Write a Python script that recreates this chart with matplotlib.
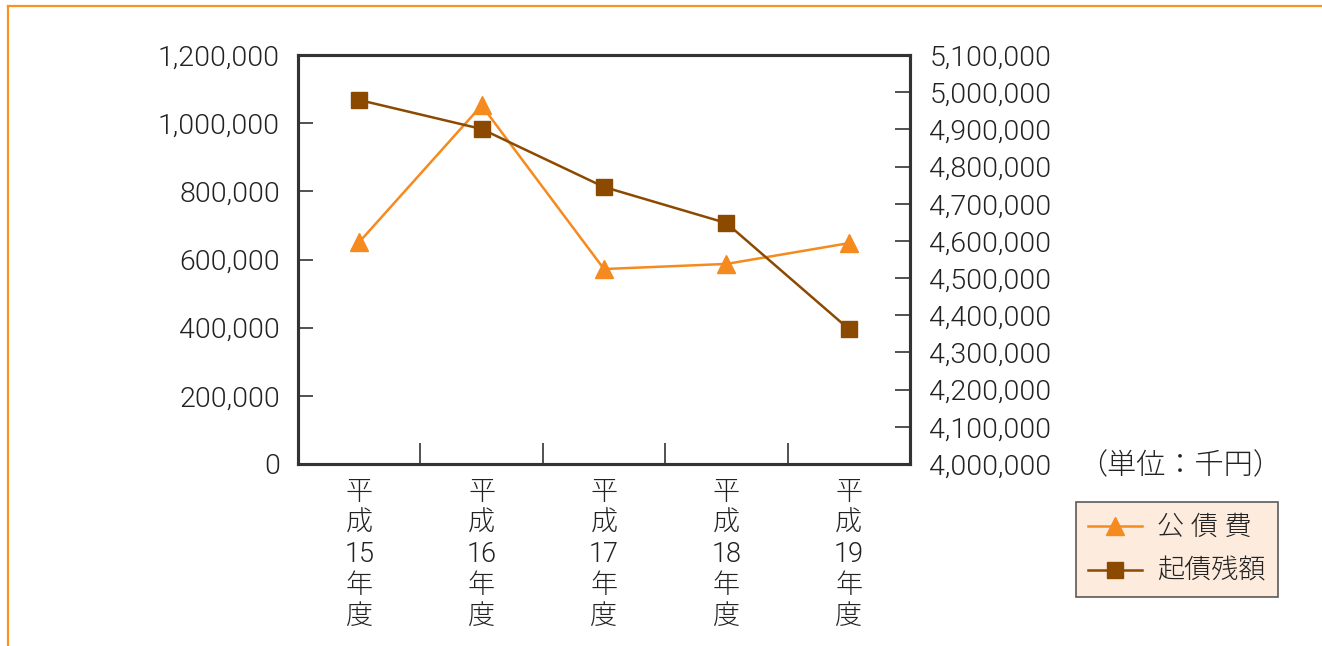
import matplotlib
matplotlib.use("Agg")
import matplotlib.pyplot as plt
from matplotlib.lines import Line2D
from matplotlib.ticker import FuncFormatter, FixedLocator

plt.rcParams["font.family"] = ["Roboto", "Noto Sans CJK JP"]
plt.rcParams["font.weight"] = 300

# ── Data (千円) ───────────────────────────────────────────────
years = ["平\n成\n15\n年\n度", "平\n成\n16\n年\n度", "平\n成\n17\n年\n度",
         "平\n成\n18\n年\n度", "平\n成\n19\n年\n度"]
kosaihi = [651000, 1052000, 572000, 587000, 648000]          # 公債費 (left axis)
kisai_zandaka = [4979000, 4901000, 4745000, 4648000, 4363000]  # 起債残額 (right axis)

ORANGE = "#F58A1F"
BROWN = "#8B4A00"
TEXT = "#222222"
SPINE = "#333333"
FS = 20.5

fig = plt.figure(figsize=(13.22, 6.46), dpi=100)
ax1 = fig.add_axes([298 / 1322, 1 - 464 / 646, 612 / 1322, 409 / 646])
ax2 = ax1.twinx()

x = range(len(years))
l1, = ax1.plot(x, kosaihi, color=ORANGE, lw=1.8, marker="^", ms=13, mec=ORANGE, mfc=ORANGE)
l2, = ax2.plot(x, kisai_zandaka, color=BROWN, lw=1.8, marker="s", ms=12, mec=BROWN, mfc=BROWN)

ax1.set_xlim(-0.5, len(years) - 0.5)
ax1.set_ylim(0, 1200000)
ax2.set_ylim(4000000, 5100000)

fmt = FuncFormatter(lambda v, _: f"{int(v):,}")
ax1.yaxis.set_major_locator(FixedLocator(range(0, 1200001, 200000)))
ax2.yaxis.set_major_locator(FixedLocator(range(4000000, 5100001, 100000)))
ax1.yaxis.set_major_formatter(fmt)
ax2.yaxis.set_major_formatter(fmt)

ax1.set_xticks(list(x))
ax1.set_xticklabels(years, fontsize=19.5, color=TEXT, linespacing=1.18, va="top")
ax1.set_xticks([i + 0.5 for i in range(len(years) - 1)], minor=True)
ax1.tick_params(axis="x", which="major", length=0, pad=11)
ax1.tick_params(axis="x", which="minor", direction="in", length=15, width=1.2, color=SPINE)
ax1.tick_params(axis="y", direction="in", length=11, width=1.2, color=SPINE,
                labelsize=FS, labelcolor=TEXT, pad=13)
ax2.tick_params(axis="y", direction="in", length=11, width=1.2, color=SPINE,
                labelsize=FS, labelcolor=TEXT, pad=14)

for ax in (ax1, ax2):
    for s in ax.spines.values():
        s.set_color(SPINE)
        s.set_linewidth(2.2)

fig.text(1078 / 1322, 1 - 466 / 646, "（単位：千円）", fontsize=21, color=TEXT,
         ha="left", va="center")

leg = fig.legend([l1, l2], ["公 債 費", "起債残額"], loc="upper left",
                 bbox_to_anchor=(1076 / 1322, 1 - 502 / 646), fontsize=19.5,
                 frameon=True, fancybox=False, handlelength=2.0, handletextpad=0.55,
                 borderpad=0.45, labelspacing=0.62, borderaxespad=0)
leg.get_frame().set_facecolor("#FDE8D6")
leg.get_frame().set_edgecolor("#333333")
leg.get_frame().set_linewidth(1.2)
for t in leg.get_texts():
    t.set_color(TEXT)

# orange page frame (top and left edges)
fig.add_artist(Line2D([8 / 1322, 1], [1 - 6 / 646, 1 - 6 / 646], color="#F7931E", lw=1.6))
fig.add_artist(Line2D([8 / 1322, 8 / 1322], [0, 1 - 6 / 646], color="#F7931E", lw=1.6))

fig.savefig("out.png", dpi=100)
